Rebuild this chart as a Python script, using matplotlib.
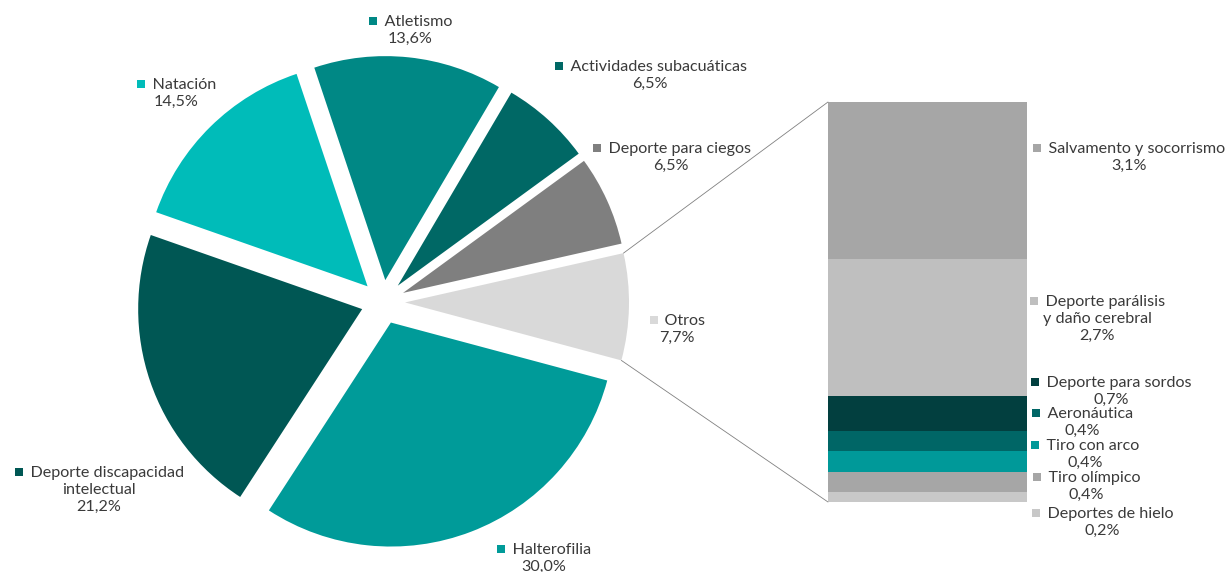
import math
import matplotlib
matplotlib.use("Agg")
import matplotlib.pyplot as plt
from matplotlib.patches import ConnectionPatch

plt.rcParams['font.family'] = ['Lato', 'DejaVu Sans']

# pie: counterclockwise starting at "Otros"
pie_labels = ['Otros', 'Deporte para ciegos', 'Actividades subacuáticas', 'Atletismo',
              'Natación', 'Deporte discapacidad\nintelectual', 'Halterofilia']
pie_values = [7.7, 6.5, 6.5, 13.6, 14.5, 21.2, 30.0]
pie_colors = ['#d9d9d9', '#7f7f7f', '#006865', '#008885', '#00bcb9', '#005754', '#009b99']

# desglose de "Otros", de abajo a arriba
bar_labels = ['Deportes de hielo', 'Tiro olímpico', 'Tiro con arco', 'Aeronáutica',
              'Deporte para sordos', 'Deporte parálisis\ny daño cerebral',
              'Salvamento y socorrismo']
bar_values = [0.2, 0.4, 0.4, 0.4, 0.7, 2.7, 3.1]
bar_colors = ['#c8c8c8', '#a6a6a6', '#009999', '#006666', '#023f3f', '#bfbfbf', '#a6a6a6']

W, H = 1227, 572
FS = 11.6
TXT = '#3a3a3a'

# label anchors in image pixels (centre of first line)
pie_pos = [(677, 320), (671, 148), (650, 66), (410, 21), (176, 84), (99, 472), (544, 549)]
bar_pos = [(1102, 513), (1086, 477), (1085, 445), (1082, 413), (1111, 382), (1097, 301), (1129, 148)]

fig = plt.figure(figsize=(W / 100, H / 100), dpi=100)
ax = fig.add_axes([0, 0, 1, 1])

wedges, _ = ax.pie(pie_values, colors=pie_colors, startangle=-15, counterclock=True,
                   radius=224, center=(383, H - 302), explode=[22] * len(pie_values),
                   wedgeprops=dict(linewidth=0))
ax.set_xlim(0, W)
ax.set_ylim(0, H)
ax.axis('off')

# stacked bar for "Otros"
bx = fig.add_axes([828 / W, 70 / H, 199 / W, 400 / H])
bottom = 0
for v, c in zip(bar_values, bar_colors):
    bx.bar(0, v, bottom=bottom, width=1, color=c, linewidth=0)
    bottom += v
bx.set_xlim(-0.5, 0.5)
bx.set_ylim(0, sum(bar_values))
bx.axis('off')

# connector lines from the "Otros" wedge to the bar
w0 = wedges[0]
cx, cy = w0.center
for th, yb in [(w0.theta2, sum(bar_values)), (w0.theta1, 0)]:
    p = (cx + w0.r * math.cos(math.radians(th)), cy + w0.r * math.sin(math.radians(th)))
    con = ConnectionPatch(xyA=p, coordsA=ax.transData, xyB=(-0.5, yb), coordsB=bx.transData,
                          color='#808080', lw=0.6)
    fig.add_artist(con)


def label(x, y, name, value, color):
    txt = '    ' + name + '\n' + f'{value:.1f}'.replace('.', ',') + '%'
    t = ax.text(x, H - y + 6, txt, ha='center', va='top', multialignment='center',
                fontsize=FS, color=TXT, linespacing=1.28)
    return t, y, color


items = []
for (x, y), n, v, c in zip(pie_pos, pie_labels, pie_values, pie_colors):
    items.append(label(x, y, n, v, c))
for (x, y), n, v, c in zip(bar_pos, bar_labels, bar_values, bar_colors):
    items.append(label(x, y, n, v, c))

fig.canvas.draw()
r = fig.canvas.get_renderer()
for t, y, c in items:
    bb = t.get_window_extent(r)
    ax.plot(bb.x0 + 5, H - y, marker='s', ms=5.2, color=c, mew=0)

fig.savefig('out.png', dpi=100)
